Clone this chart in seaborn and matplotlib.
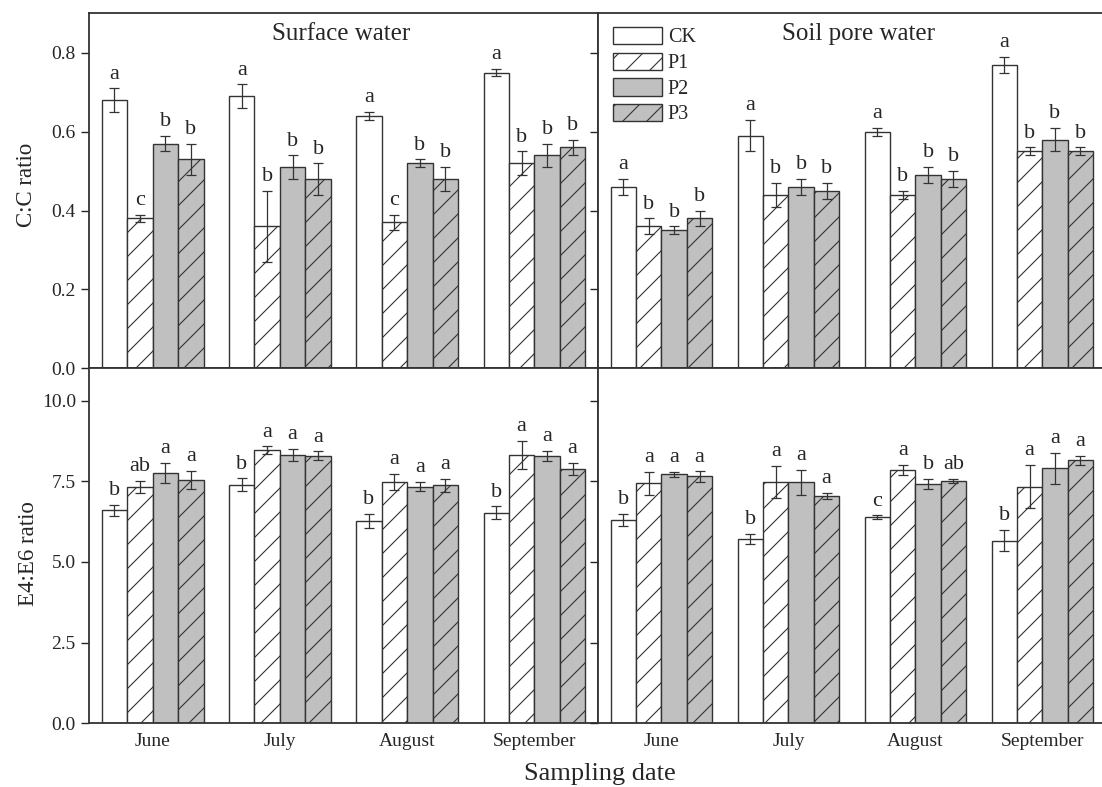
import matplotlib
matplotlib.use('Agg')
import numpy as np
import pandas as pd
import matplotlib.pyplot as plt
import seaborn as sns
from matplotlib.patches import Patch

# Dane
months = ['June', 'July', 'August', 'September']
treatments = ['CK', 'P1', 'P2', 'P3']

# C:C ratio - woda powierzchniowa (wiersze: CK, P1, P2, P3)
cc_surf_mean = [[0.68, 0.69, 0.64, 0.75],
                [0.38, 0.36, 0.37, 0.52],
                [0.57, 0.51, 0.52, 0.54],
                [0.53, 0.48, 0.48, 0.56]]
cc_surf_sd = [[0.03, 0.03, 0.01, 0.01],
              [0.01, 0.09, 0.02, 0.03],
              [0.02, 0.03, 0.01, 0.03],
              [0.04, 0.04, 0.03, 0.02]]
cc_surf_letters = [['a', 'a', 'a', 'a'],
                   ['c', 'b', 'c', 'b'],
                   ['b', 'b', 'b', 'b'],
                   ['b', 'b', 'b', 'b']]

# C:C ratio - woda porowa
cc_pore_mean = [[0.46, 0.59, 0.60, 0.77],
                [0.36, 0.44, 0.44, 0.55],
                [0.35, 0.46, 0.49, 0.58],
                [0.38, 0.45, 0.48, 0.55]]
cc_pore_sd = [[0.02, 0.04, 0.01, 0.02],
              [0.02, 0.03, 0.01, 0.01],
              [0.01, 0.02, 0.02, 0.03],
              [0.02, 0.02, 0.02, 0.01]]
cc_pore_letters = [['a', 'a', 'a', 'a'],
                   ['b', 'b', 'b', 'b'],
                   ['b', 'b', 'b', 'b'],
                   ['b', 'b', 'b', 'b']]

# E4:E6 ratio - woda powierzchniowa
e4_surf_mean = [[6.60, 7.39, 6.27, 6.53],
                [7.33, 8.46, 7.47, 8.32],
                [7.75, 8.32, 7.33, 8.29],
                [7.54, 8.29, 7.37, 7.88]]
e4_surf_sd = [[0.17, 0.20, 0.23, 0.19],
              [0.19, 0.12, 0.25, 0.44],
              [0.31, 0.18, 0.14, 0.16],
              [0.28, 0.14, 0.20, 0.18]]
e4_surf_letters = [['b', 'b', 'b', 'b'],
                   ['ab', 'a', 'a', 'a'],
                   ['a', 'a', 'a', 'a'],
                   ['a', 'a', 'a', 'a']]

# E4:E6 ratio - woda porowa
e4_pore_mean = [[6.30, 5.71, 6.39, 5.66],
                [7.44, 7.47, 7.85, 7.33],
                [7.71, 7.47, 7.42, 7.90],
                [7.65, 7.04, 7.51, 8.15]]
e4_pore_sd = [[0.19, 0.16, 0.05, 0.33],
              [0.36, 0.50, 0.15, 0.67],
              [0.07, 0.39, 0.15, 0.49],
              [0.16, 0.10, 0.07, 0.14]]
e4_pore_letters = [['b', 'b', 'c', 'b'],
                   ['a', 'a', 'a', 'a'],
                   ['a', 'a', 'b', 'a'],
                   ['a', 'a', 'ab', 'a']]

fills = {'CK': 'white', 'P1': 'white', 'P2': '#c0c0c0', 'P3': '#c0c0c0'}
hatches = {'CK': '', 'P1': '//', 'P2': '', 'P3': '//'}
edge = '#333333'

# wyzsze dpi -> gestsze kreskowanie; rozmiary w punktach skalowane przez k
DPI = 144
k = 100 / DPI

sns.set_style('ticks')
plt.rcParams['font.family'] = ['Liberation Serif', 'DejaVu Serif']
plt.rcParams['hatch.linewidth'] = 0.8 * k
plt.rcParams['hatch.color'] = edge


def long_df(mean, sd):
    rows = []
    for i, t in enumerate(treatments):
        for j, m in enumerate(months):
            rows.append({'month': m, 'treatment': t, 'value': mean[i][j], 'sd': sd[i][j]})
    return pd.DataFrame(rows)


def draw_panel(ax, mean, sd, letters):
    df = long_df(mean, sd)
    sns.barplot(data=df, x='month', y='value', hue='treatment', order=months,
                hue_order=treatments, palette=fills, width=0.8, errorbar=None,
                edgecolor=edge, linewidth=1.0 * k, legend=False, ax=ax)
    for i, (t, cont) in enumerate(zip(treatments, ax.containers)):
        for j, bar in enumerate(cont):
            bar.set_hatch(hatches[t])
            bar.set_edgecolor(edge)
            x = bar.get_x() + bar.get_width() / 2
            h = bar.get_height()
            ax.errorbar(x, h, yerr=sd[i][j], color='#333333', elinewidth=0.9 * k,
                        capsize=3.3 * k, capthick=0.9 * k, fmt='none', zorder=5)
            ax.annotate(letters[i][j], (x, h + sd[i][j]), xytext=(0, 7 * k),
                        textcoords='offset points', ha='center', va='baseline',
                        fontsize=16 * k)
    ax.set_xlabel('')
    ax.set_ylabel('')
    for s in ax.spines.values():
        s.set_visible(True)
        s.set_linewidth(1.3 * k)
        s.set_color('#333333')
    ax.tick_params(axis='x', length=0, labelsize=14 * k, pad=7 * k)
    ax.tick_params(axis='y', length=5.5 * k, width=1.0 * k, direction='out',
                   labelsize=14 * k, pad=4 * k)


fig, axes = plt.subplots(2, 2, figsize=(1102 / DPI, 787 / DPI), dpi=DPI, sharey='row',
                         gridspec_kw={'width_ratios': [509, 504]})
plt.subplots_adjust(left=0.0808, right=1.0, top=0.983, bottom=0.081,
                    wspace=0, hspace=0)

draw_panel(axes[0, 0], cc_surf_mean, cc_surf_sd, cc_surf_letters)
draw_panel(axes[0, 1], cc_pore_mean, cc_pore_sd, cc_pore_letters)
draw_panel(axes[1, 0], e4_surf_mean, e4_surf_sd, e4_surf_letters)
draw_panel(axes[1, 1], e4_pore_mean, e4_pore_sd, e4_pore_letters)

# prawy panel jest przyciety na krawedzi obrazu
for ax in axes[:, 0]:
    ax.set_xlim(-0.5, 3.5)
for ax in axes[:, 1]:
    ax.set_xlim(-0.5, 3.47)
    ax.spines['right'].set_visible(False)

axes[0, 0].set_ylim(0, 0.9)
axes[0, 0].set_yticks([0.0, 0.2, 0.4, 0.6, 0.8])
axes[0, 0].set_yticklabels(['0.0', '0.2', '0.4', '0.6', '0.8'])
axes[1, 0].set_ylim(0, 11)
axes[1, 0].set_yticks([0.0, 2.5, 5.0, 7.5, 10.0])
axes[1, 0].set_yticklabels(['0.0', '2.5', '5.0', '7.5', '10.0'])

for ax in axes[0]:
    ax.tick_params(axis='x', labelbottom=False)
for ax in axes[:, 1]:
    ax.tick_params(axis='y', labelleft=False)

fig.text(0.0245, 0.765, 'C:C ratio', rotation=90, ha='center', va='center',
         fontsize=16.5 * k)
fig.text(0.026, 0.297, 'E4:E6 ratio', rotation=90, ha='center', va='center',
         fontsize=16.5 * k)

axes[0, 0].text(0.495, 0.925, 'Surface water', transform=axes[0, 0].transAxes,
                ha='center', va='baseline', fontsize=18 * k)
axes[0, 1].text(0.516, 0.925, 'Soil pore water', transform=axes[0, 1].transAxes,
                ha='center', va='baseline', fontsize=18 * k)

fig.text(0.544, 0.0095, 'Sampling date', ha='center', va='baseline', fontsize=19 * k)

handles = [Patch(facecolor=fills[t], edgecolor=edge, hatch=hatches[t], label=t,
                 linewidth=1.0 * k)
           for t in treatments]
axes[0, 1].legend(handles=handles, loc='upper left', bbox_to_anchor=(0.03, 0.962),
                  frameon=False, fontsize=14.5 * k, handlelength=2.42, handleheight=0.95,
                  labelspacing=0.25, handletextpad=0.3, borderaxespad=0, borderpad=0)

fig.savefig('out.png', dpi=DPI)
